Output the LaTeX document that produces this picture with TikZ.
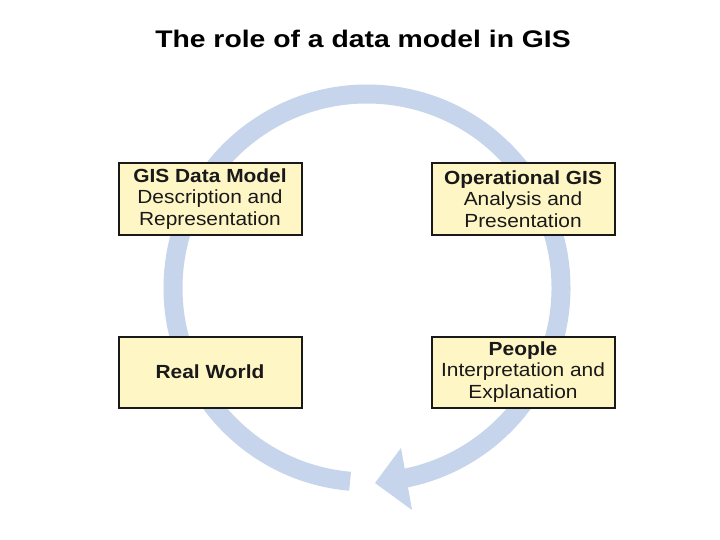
\documentclass[tikz,border=0pt]{standalone}
\usepackage{fontspec}
\setmainfont{Liberation Sans}
\newfontfamily\titlefont[FakeStretch=1.18]{Liberation Sans}
\newfontfamily\boxfont[FakeStretch=1.1]{Liberation Sans}
\definecolor{ringblue}{RGB}{198,212,236}
\definecolor{boxfill}{RGB}{255,246,198}
\definecolor{boxline}{RGB}{25,25,25}
\tikzset{
  gbox/.style={draw=boxline, fill=boxfill, line width=2pt, inner sep=0pt,
    minimum width=183pt, minimum height=71pt, align=center, text=black!90,
    font={\boxfont\fontsize{19}{21.5}\selectfont}},
  ring/.style={draw=ringblue, line width=19pt},
  headfill/.style={fill=ringblue}
}
\begin{document}
\begin{tikzpicture}[x=1pt,y=-1pt]
\useasboundingbox (0,0) rectangle (720,540);
\fill[white] (0,0) rectangle (720,540);
\node[anchor=base, font={\titlefont\bfseries\fontsize{24}{28}\selectfont}] (title) at (363,48) {The role of a data model in GIS};
\coordinate (c) at (367,288);
\draw[ring] (c) ++(95:194) arc[start angle=95, end angle=440, radius=194];
\fill[headfill] (375,483) -- (401,448) -- (412,510) -- cycle;
\node[gbox] (model) at (210,199) {\textbf{GIS Data Model}\\Description and\\Representation};
\node[gbox] (oper) at (523,199) {\textbf{Operational GIS}\\Analysis and\\Presentation};
\node[gbox] (real) at (210,372) {\textbf{Real World}};
\node[gbox] (people) at (523,372) {\textbf{People}\\Interpretation and\\Explanation};
\end{tikzpicture}
\end{document}
